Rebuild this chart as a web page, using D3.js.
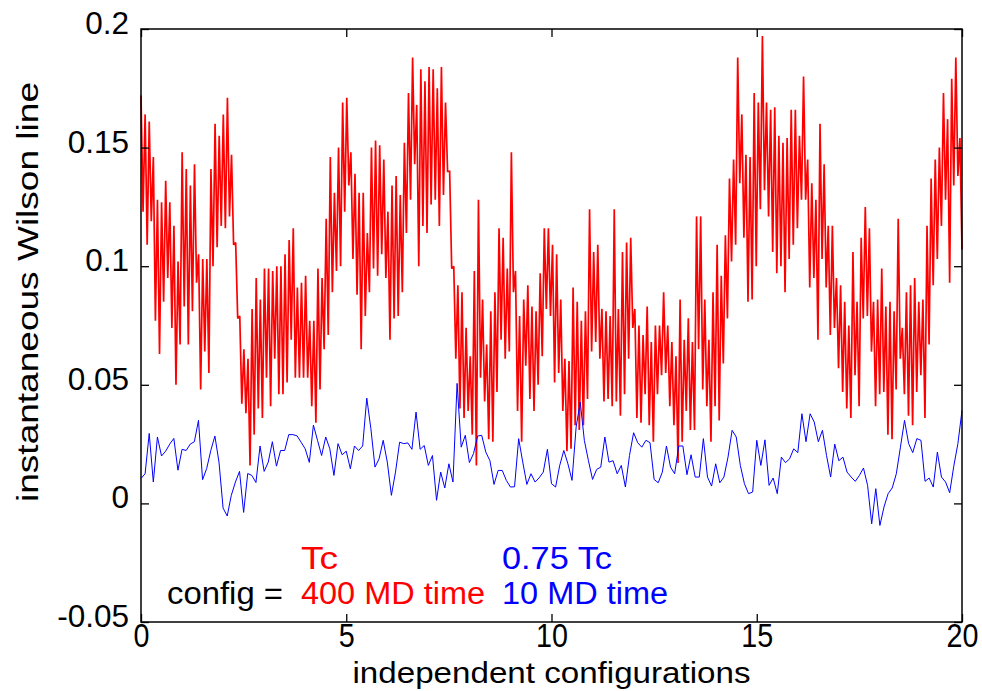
<!DOCTYPE html>
<html>
<head>
<meta charset="utf-8">
<script src="https://cdn.jsdelivr.net/npm/d3@7/dist/d3.min.js"></script>
<style>
  html, body { margin: 0; padding: 0; background: #fff; }
  svg { display: block; font-family: "Liberation Sans", Arial, sans-serif; }
</style>
</head>
<body>
<svg id="chart" width="982" height="691"></svg>
<script>
// ---- data ----
const xTicks = [0, 5, 10, 15, 20];
const xTickLabels = ["0", "5", "10", "15", "20"];
const yTicks = [-0.05, 0, 0.05, 0.1, 0.15, 0.2];
const yTickLabels = ["-0.05", "0", "0.05", "0.1", "0.15", "0.2"];

// 0.75 Tc, 10 MD time : one value every 0.1 configuration (x = 0 .. 20)
const blueValues = [
  0.0105,0.0125,0.0295,0.009,0.028,0.020,0.022,0.025,0.0274,0.014,
  0.0228,0.0223,0.025,0.026,0.035,0.010,0.0147,0.0223,0.0284,0.0174,
  -0.002,-0.0053,0.0034,0.009,0.0135,-0.0038,0.0126,0.0118,0.0088,0.0242,
  0.0135,0.0174,0.026,0.0157,0.0223,0.0223,0.029,0.029,0.0285,0.0258,
  0.023,0.0173,0.033,0.0266,0.0202,0.028,0.023,0.0118,0.0252,0.0205,
  0.022,0.0146,0.0242,0.0223,0.0242,0.0444,0.0315,0.0153,0.0188,0.0266,
  0.0174,0.0034,0.0132,0.0258,0.0252,0.0255,0.0228,0.0385,0.0228,0.0244,
  0.016,0.0202,0.0013,0.0132,0.0065,0.0167,0.009,0.0506,0.0237,0.0287,
  0.0172,0.021,0.0284,0.0287,0.0216,0.018,0.008,0.0139,0.0139,0.0097,
  0.0069,0.007,0.0273,0.0174,0.008,0.0125,0.009,0.0108,0.0132,0.0228,
  0.0083,0.0069,0.016,0.0223,0.0167,0.0097,0.0322,0.0427,0.0266,0.018,
  0.0101,0.0143,0.0153,0.028,0.0174,0.018,0.0125,0.016,0.0069,0.0202,
  0.0298,0.0256,0.0237,0.0266,0.0256,0.0101,0.0087,0.0132,0.0242,0.0153,
  0.0125,0.0242,0.0242,0.0121,0.0205,0.0111,0.0111,0.0273,0.0111,0.0073,
  0.0167,0.0087,0.0111,0.0195,0.0308,0.028,0.016,0.0083,0.0041,0.0048,
  0.0266,0.016,0.0268,0.0076,0.0107,0.0041,0.0195,0.0172,0.0188,0.023,
  0.0214,0.0378,0.026,0.0378,0.0343,0.026,0.0308,0.0202,0.0111,0.025,
  0.018,0.0195,0.0132,0.0111,0.0093,0.0118,0.0149,0.0076,-0.0086,0.0062,
  -0.0093,-0.0015,0.0041,0.0065,0.0125,0.0237,0.035,0.0252,0.0214,0.0273,
  0.0266,0.0093,0.0107,0.0069,0.0216,0.0111,0.009,0.0045,0.0157,0.0252,
  0.0392
];

// Tc, 400 MD time : high and low excursions of the dense trace, per 0.1 slice
const redHigh = [
  0.172,0.164,0.161,0.146,0.128,0.127,0.136,0.127,0.117,0.102,0.148,0.141,0.134,0.143,0.105,0.103,0.103,0.141,0.160,0.155,0.164,0.171,0.147,0.110,0.079,0.065,0.061,0.082,0.095,0.086,0.099,0.099,0.098,0.100,
  0.100,0.105,0.111,0.116,0.091,0.093,0.096,0.077,0.077,0.099,0.095,0.120,0.146,0.131,0.150,0.169,0.171,0.148,0.139,0.131,0.131,0.114,0.150,0.153,0.151,0.145,0.123,0.134,0.138,0.130,0.152,0.173,0.188,0.168,
  0.183,0.178,0.184,0.183,0.175,0.184,0.169,0.140,0.100,0.092,0.089,0.074,0.062,0.098,0.128,0.086,0.067,0.081,0.089,0.116,0.112,0.099,0.148,0.098,0.079,0.086,0.092,0.083,0.081,0.097,0.116,0.116,0.109,0.105,
  0.086,0.061,0.060,0.091,0.085,0.077,0.081,0.124,0.106,0.109,0.082,0.081,0.079,0.124,0.082,0.106,0.110,0.112,0.082,0.075,0.071,0.083,0.068,0.075,0.075,0.089,0.075,0.068,0.062,0.086,0.069,0.078,0.068,0.121,
  0.121,0.086,0.069,0.089,0.109,0.096,0.113,0.137,0.145,0.188,0.164,0.147,0.146,0.173,0.169,0.197,0.169,0.166,0.167,0.155,0.152,0.154,0.166,0.166,0.155,0.180,0.145,0.135,0.128,0.160,0.143,0.117,0.117,0.095,
  0.092,0.085,0.075,0.106,0.085,0.112,0.125,0.116,0.085,0.086,0.099,0.083,0.085,0.081,0.120,0.074,0.089,0.092,0.095,0.085,0.086,0.117,0.137,0.145,0.150,0.173,0.162,0.179,0.188,0.154
];
const redLow = [
  0.123,0.109,0.119,0.077,0.063,0.085,0.095,0.074,0.050,0.067,0.083,0.067,0.081,0.093,0.048,0.064,0.055,0.100,0.108,0.117,0.116,0.121,0.109,0.078,0.042,0.038,0.016,0.029,0.040,0.036,0.053,0.041,0.061,0.046,
  0.046,0.051,0.069,0.053,0.053,0.053,0.053,0.041,0.034,0.048,0.065,0.071,0.089,0.098,0.100,0.123,0.134,0.103,0.088,0.065,0.079,0.089,0.099,0.096,0.105,0.095,0.069,0.078,0.079,0.089,0.114,0.128,0.143,0.100,
  0.117,0.114,0.126,0.128,0.117,0.130,0.140,0.099,0.061,0.040,0.036,0.039,0.029,0.016,0.053,0.043,0.027,0.026,0.047,0.069,0.061,0.064,0.089,0.039,0.026,0.058,0.044,0.039,0.050,0.062,0.082,0.079,0.051,0.055,
  0.039,0.022,0.023,0.033,0.031,0.033,0.044,0.064,0.068,0.061,0.043,0.044,0.041,0.043,0.037,0.046,0.061,0.074,0.036,0.034,0.046,0.033,0.026,0.046,0.054,0.055,0.041,0.033,0.017,0.026,0.039,0.031,0.031,0.065,
  0.048,0.041,0.026,0.041,0.035,0.059,0.078,0.102,0.109,0.135,0.112,0.085,0.086,0.100,0.124,0.132,0.121,0.106,0.097,0.100,0.089,0.103,0.109,0.116,0.128,0.128,0.091,0.095,0.069,0.103,0.091,0.071,0.074,0.057,
  0.047,0.040,0.036,0.054,0.041,0.078,0.079,0.064,0.041,0.046,0.047,0.029,0.027,0.048,0.061,0.046,0.037,0.033,0.047,0.054,0.036,0.067,0.092,0.103,0.117,0.128,0.093,0.134,0.138,0.107
];

const axisLabelX = "independent configurations";
const axisLabelY = "instantaneous Wilson line";
const legendRows = [
  { label: "", red: "Tc", blue: "0.75 Tc" },
  { label: "config =", red: "400 MD time", blue: "10 MD time" }
];

// ---- build series ----
const blueSeries = blueValues.map((v, i) => ({ x: i * 0.1, y: v }));
const redRaw = [];
redHigh.forEach((h, i) => { redRaw.push(h); redRaw.push(redLow[i]); });
const redSeries = redRaw.map((v, i) => ({ x: i * 20 / (redRaw.length - 1), y: v }));

// ---- layout ----
const W = 982, H = 691;
const margin = { left: 141, right: 20, top: 29, bottom: 69 };
const pw = W - margin.left - margin.right;
const ph = H - margin.top - margin.bottom;

const svg = d3.select("#chart");
const g = svg.append("g").attr("transform", `translate(${margin.left},${margin.top})`);

const x = d3.scaleLinear().domain([0, 20]).range([0, pw]);
const y = d3.scaleLinear().domain([-0.05, 0.2]).range([ph, 0]);

const line = d3.line().x(d => x(d.x)).y(d => y(d.y));

g.append("path").datum(redSeries)
  .attr("d", line).attr("fill", "none")
  .attr("stroke", "#ff0000").attr("stroke-width", 1.7)
  .attr("stroke-linejoin", "miter").attr("stroke-miterlimit", 2);

g.append("path").datum(blueSeries)
  .attr("d", line).attr("fill", "none")
  .attr("stroke", "#0000ff").attr("stroke-width", 1);

// axes with inward ticks
const tickLen = 8;
const yAxisL = d3.axisLeft(y).tickValues(yTicks)
  .tickFormat((d, i) => yTickLabels[i]).tickSizeInner(-tickLen).tickSizeOuter(0).tickPadding(12);
const yAxisR = d3.axisRight(y).tickValues(yTicks).tickFormat("").tickSizeInner(-tickLen).tickSizeOuter(0);
const xAxisB = d3.axisBottom(x).tickValues(xTicks)
  .tickFormat((d, i) => xTickLabels[i]).tickSizeInner(-tickLen).tickSizeOuter(0).tickPadding(2);
const xAxisT = d3.axisTop(x).tickValues(xTicks).tickFormat("").tickSizeInner(-tickLen).tickSizeOuter(0);

const gyl = g.append("g").call(yAxisL);
const gyr = g.append("g").attr("transform", `translate(${pw},0)`).call(yAxisR);
const gxb = g.append("g").attr("transform", `translate(0,${ph})`).call(xAxisB);
const gxt = g.append("g").call(xAxisT);

[gyl, gyr, gxb, gxt].forEach(a => {
  a.select(".domain").remove();
  a.selectAll(".tick line").attr("stroke", "#000").attr("stroke-width", 1.3);
});
gyl.selectAll(".tick text")
  .attr("font-size", 31.5).attr("fill", "#000").attr("dy", "0.14em")
  .attr("font-family", "Liberation Sans, Arial, sans-serif");
gxb.selectAll(".tick text")
  .attr("font-size", 33).attr("fill", "#000").attr("dy", "0.71em")
  .attr("transform", "scale(0.87,1)")
  .attr("font-family", "Liberation Sans, Arial, sans-serif");

// frame
g.append("rect").attr("x", 0).attr("y", 0).attr("width", pw).attr("height", ph)
  .attr("fill", "none").attr("stroke", "#000").attr("stroke-width", 1.5);

// axis titles
svg.append("text")
  .attr("x", margin.left + pw / 2).attr("y", 683)
  .attr("text-anchor", "middle").attr("font-size", 30)
  .attr("textLength", 398).attr("lengthAdjust", "spacingAndGlyphs")
  .text(axisLabelX);

svg.append("text")
  .attr("transform", "translate(38,292) rotate(-90)")
  .attr("text-anchor", "middle").attr("font-size", 30)
  .attr("textLength", 420).attr("lengthAdjust", "spacingAndGlyphs")
  .text(axisLabelY);

// legend text (two rows)
const legendY = [569, 604];
const legendFont = 31;
const legendWidths = { "config =": 116, "Tc": 37, "400 MD time": 184, "0.75 Tc": 110, "10 MD time": 166 };
function legendText(xPos, yPos, txt, color) {
  svg.append("text").attr("x", xPos).attr("y", yPos)
    .attr("font-size", legendFont).attr("fill", color)
    .attr("textLength", legendWidths[txt]).attr("lengthAdjust", "spacingAndGlyphs")
    .text(txt);
}
legendRows.forEach((r, i) => {
  if (r.label) legendText(167, legendY[i], r.label, "#000");
  legendText(301, legendY[i], r.red, "#ff0000");
  legendText(502, legendY[i], r.blue, "#0000ff");
});
</script>
</body>
</html>
